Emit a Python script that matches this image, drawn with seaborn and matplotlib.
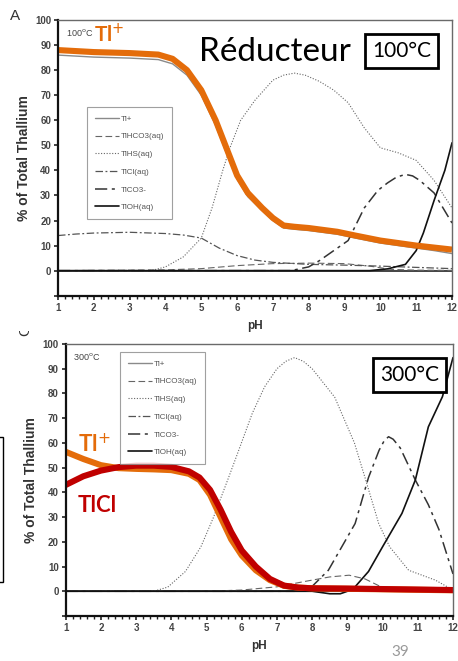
import numpy as np
import pandas as pd
import matplotlib
matplotlib.use('Agg')
import matplotlib.pyplot as plt
from matplotlib.patches import Rectangle
from matplotlib.ticker import MultipleLocator
import seaborn as sns

# ── data: 100 °C panel ─────────────────────────────────────────────────
ph_tl_100 = [1, 2, 3, 3.8, 4.2, 4.6, 5.0, 5.4, 5.7, 6.0, 6.3, 6.7, 7.0, 7.3, 7.6, 8.0, 8.8, 9.3, 10, 10.5, 11, 11.5, 12]
tl_100 = [86, 85.2, 84.8, 84.2, 82.5, 78, 70, 58, 47, 36.5, 29.5, 24, 20, 17, 16.5, 16, 14.5, 13, 11, 10, 9, 8, 6.8]
tl_hl_100 = [88, 87.2, 86.8, 86.2, 84.5, 80, 72, 60, 49, 38, 31, 25, 21, 18, 17.5, 17, 15.5, 14, 12, 11, 10, 9.2, 8.4]
ph_hco3_100 = [1, 4, 5, 6, 7, 8, 9, 9.7, 10.3, 11, 12]
hco3_100 = [0, 0.3, 0.8, 2, 2.8, 3, 2.8, 1.8, 0.5, 0.2, 0.1]
ph_hs_100 = [1, 3.6, 4.0, 4.5, 5.0, 5.3, 5.6, 5.8, 6.1, 6.5, 7.0, 7.3, 7.6, 7.9, 8.3, 8.7, 9.1, 9.55, 10, 10.5, 11, 11.5, 12]
hs_100 = [0, 0, 1.5, 5.5, 13, 25, 40, 49, 60, 68, 76, 78, 78.8, 78, 75.5, 72, 67, 57, 49, 47, 44, 36, 25]
ph_cl_100 = [1, 1.5, 2, 3, 4, 4.5, 5, 5.5, 6, 6.5, 7, 8, 9, 10, 11, 12]
cl_100 = [14, 14.6, 15, 15.3, 14.8, 14.2, 13, 9, 6, 4.2, 3.3, 2.5, 2.2, 1.8, 1.3, 0.8]
ph_co3_100 = [1, 7.5, 8, 8.3, 8.7, 9.1, 9.55, 9.93, 10.2, 10.45, 10.7, 10.9, 11.1, 11.5, 12]
co3_100 = [0, 0, 1.5, 4, 8, 12, 25, 32, 35, 37.3, 38.4, 37.8, 36, 31, 19]
ph_oh_100 = [1, 9.7, 10.2, 10.7, 11.0, 11.2, 11.5, 11.8, 12]
oh_100 = [0, 0, 0.7, 2.5, 8, 15, 28, 40, 51]

# ── data: 300 °C panel ──────────────────────────
ph_tl_300 = [1, 1.5, 2, 2.5, 3, 3.5, 4, 4.5, 4.8, 5.1, 5.4, 5.7, 6.0, 6.4, 6.8, 7.2, 7.6, 8, 9, 10, 11, 12]
tl_300 = [56.4, 53.5, 51, 49.8, 49.5, 49.3, 49, 47.5, 45, 39, 30, 21, 14.5, 8.5, 4.5, 2.2, 1.5, 1.2, 1.0, 0.8, 0.6, 0.4]
cl_300 = [43, 46.5, 48.8, 50.2, 50.8, 50.8, 50.3, 48.5, 46, 41, 33, 24, 16.5, 10, 5, 2.3, 1.5, 1.2, 1.1, 0.9, 0.7, 0.5]
ph_hco3_300 = [1, 5, 6, 7, 7.8, 8.5, 9.05, 9.5, 10, 10.5, 11, 12]
hco3_300 = [0, 0, 0.5, 1.8, 4, 5.8, 6.5, 5, 1.5, 0.5, 0.2, 0]
ph_hs_300 = [1, 3.5, 3.9, 4.4, 4.84, 5.2, 5.6, 5.88, 6.3, 6.65, 7.0, 7.25, 7.5, 7.75, 8.0, 8.64, 9.2, 9.5, 9.89, 10.2, 10.74, 11.5, 12]
hs_300 = [0, 0, 1.7, 8, 18, 30, 45, 55.7, 72, 82.7, 90, 93, 94.5, 93, 90, 78.5, 60, 46, 27.4, 18, 8.5, 4.5, 0.5]
ph_co3_300 = [1, 7.5, 8.0, 8.46, 9.22, 9.6, 9.9, 10.05, 10.17, 10.3, 10.5, 10.93, 11.3, 11.6, 12]
co3_300 = [0, 0, 2, 8.5, 27.4, 46, 57, 61, 62.5, 61.5, 58, 45, 35, 25, 7]
ph_oh_300 = [1, 8, 8.5, 8.8, 9.0, 9.2, 9.6, 10.0, 10.55, 10.93, 11.3, 11.7, 12]
oh_300 = [0, 0, -1, -1, 0, 1.5, 8, 18, 31.5, 45, 66.5, 78.7, 94.5]

species = ["Tl+", "TlHCO3(aq)", "TlHS(aq)", "TlCl(aq)", "TlCO3-", "TlOH(aq)"]

ORANGE = "#E46C0A"
DARKRED = "#C00000"
W, H = 458, 661

sns.set_theme(style="ticks")
plt.rcParams['font.family'] = ['Liberation Sans', 'DejaVu Sans']

fig = plt.figure(figsize=(W / 100, H / 100), dpi=100)


def px(x, y):
    return x / W, 1 - y / H


def add_axes(left, top, right, bottom):
    x0, y1 = px(left, top)
    x1, y0 = px(right, bottom)
    return fig.add_axes([x0, y0, x1 - x0, y1 - y0])


styles = {
    "Tl+": dict(color="#8a8a8a", linewidth=1.0, linestyle="-"),
    "TlHCO3(aq)": dict(color="#666666", linewidth=0.8, dashes=(6, 3)),
    "TlHS(aq)": dict(color="#666666", linewidth=0.8, dashes=(1, 1.5)),
    "TlCl(aq)": dict(color="#555555", linewidth=0.9, dashes=(6, 2, 1.5, 2)),
    "TlCO3-": dict(color="#333333", linewidth=1.1, dashes=(8, 3, 2, 3)),
    "TlOH(aq)": dict(color="#111111", linewidth=1.2, linestyle="-"),
}


def draw_panel(ax, series, overlays, leg_anchor, label):
    handles = []
    for name, (x, y) in zip(species, series):
        sns.lineplot(x=x, y=y, ax=ax, legend=False, **styles[name])
        handles.append(ax.lines[-1])
    for x, y, c in overlays:
        sns.lineplot(x=x, y=y, ax=ax, legend=False, color=c, linewidth=4.4,
                     solid_capstyle='butt', solid_joinstyle='round')
    ax.axhline(0, color="#111111", linewidth=1.1, zorder=1)

    ax.set_xlim(1, 12)
    ax.set_ylim(-10, 100)
    ax.xaxis.set_major_locator(MultipleLocator(1))
    ax.xaxis.set_minor_locator(MultipleLocator(0.2))
    ax.set_yticks(np.arange(-10, 101, 10))
    ax.set_yticklabels([""] + [str(v) for v in range(0, 101, 10)])
    ax.tick_params(axis='both', which='major', length=3, width=1.2, colors="#222222",
                   labelsize=7, labelcolor="#444444", pad=2)
    ax.tick_params(axis='x', which='minor', length=2, width=1.0, colors="#222222")
    for t in ax.get_xticklabels() + ax.get_yticklabels():
        t.set_fontweight('bold')
    for s in ['left', 'bottom']:
        ax.spines[s].set_color("#111111")
        ax.spines[s].set_linewidth(1.6)
    for s in ['top', 'right']:
        ax.spines[s].set_visible(True)
        ax.spines[s].set_color("#6a6a6a")
        ax.spines[s].set_linewidth(1.0)
    ax.set_xlabel("pH", fontsize=8.5, fontweight='bold', color="#333333", labelpad=5)
    ax.set_ylabel("% of Total Thallium", fontsize=10, fontweight='bold', color="#333333", labelpad=3)
    ax.text(0.02, 0.975, label, transform=ax.transAxes, fontsize=6.5, color="#444444",
            va='top', ha='left')

    leg = ax.legend(handles, species, loc='upper left', bbox_to_anchor=leg_anchor,
                    fontsize=5.8, labelspacing=1.25, handlelength=3.0, handletextpad=0.2,
                    borderpad=1.0, borderaxespad=0, frameon=True, fancybox=False,
                    edgecolor="#888888")
    leg.get_frame().set_linewidth(0.8)
    for t in leg.get_texts():
        t.set_color("#555555")


# ── top panel: 100 °C ──────────────────────────
ax1 = add_axes(58, 20, 452, 295.7)
draw_panel(ax1,
           [(ph_tl_100, tl_100), (ph_hco3_100, hco3_100), (ph_hs_100, hs_100),
            (ph_cl_100, cl_100), (ph_co3_100, co3_100), (ph_oh_100, oh_100)],
           [(ph_tl_100, tl_hl_100, ORANGE)],
           (0.0736, 0.6844), "100$^{\\rm o}$C")

# ── bottom panel: 300 °C ──────────────────────────
ax2 = add_axes(65.7, 344, 453, 616)
draw_panel(ax2,
           [(ph_tl_300, tl_300), (ph_hco3_300, hco3_300), (ph_hs_300, hs_300),
            (ph_tl_300, cl_300), (ph_co3_300, co3_300), (ph_oh_300, oh_300)],
           [(ph_tl_300, tl_300, ORANGE), (ph_tl_300, cl_300, DARKRED)],
           (0.140, 0.9706), "300$^{\\rm o}$C")

# ── slide annotations ──────────────────────────
slide_font = ['Lato', 'DejaVu Sans']
fig.text(*px(15, 16), "A", fontsize=11, color="#333333", ha='center', va='center')
# panel letter "C" cut off by the crop of the slide image
fig.text(*px(25, 330), "C", fontsize=11, color="#333333", ha='center', va='center',
         rotation=90, zorder=1)
fig.patches.append(Rectangle(px(10, 331), 30 / W, 12 / H, transform=fig.transFigure,
                             facecolor='white', edgecolor='none', zorder=5))

fig.text(*px(94, 34), "Tl$^{+}$", fontsize=15, color=ORANGE, fontweight='bold',
         ha='left', va='center', family=slide_font)
fig.text(*px(275, 52), "Réducteur", fontsize=24, color="black", ha='center', va='center',
         family=slide_font)
fig.text(*px(401.5, 51), "100°C", fontsize=15, color="black", ha='center', va='center',
         family=slide_font,
         bbox=dict(boxstyle='square,pad=0.35', facecolor='white', edgecolor='black', linewidth=2))

fig.text(*px(78, 444), "Tl$^{+}$", fontsize=16, color=ORANGE, fontweight='bold',
         ha='left', va='center', family=slide_font)
fig.text(*px(78, 505), "TlCl", fontsize=16, color=DARKRED, fontweight='bold',
         ha='left', va='center', family=slide_font)
fig.text(*px(409.5, 375), "300°C", fontsize=15, color="black", ha='center', va='center',
         family=slide_font,
         bbox=dict(boxstyle='square,pad=0.35', facecolor='white', edgecolor='black', linewidth=2))

fig.text(*px(400, 652), "39", fontsize=11, color="#999999", ha='center', va='center',
         family=slide_font)
fig.patches.append(Rectangle(px(-5, 582), 8 / W, 145 / H, transform=fig.transFigure,
                             facecolor='none', edgecolor='black', linewidth=1.0))

fig.savefig("out.png", dpi=100)
